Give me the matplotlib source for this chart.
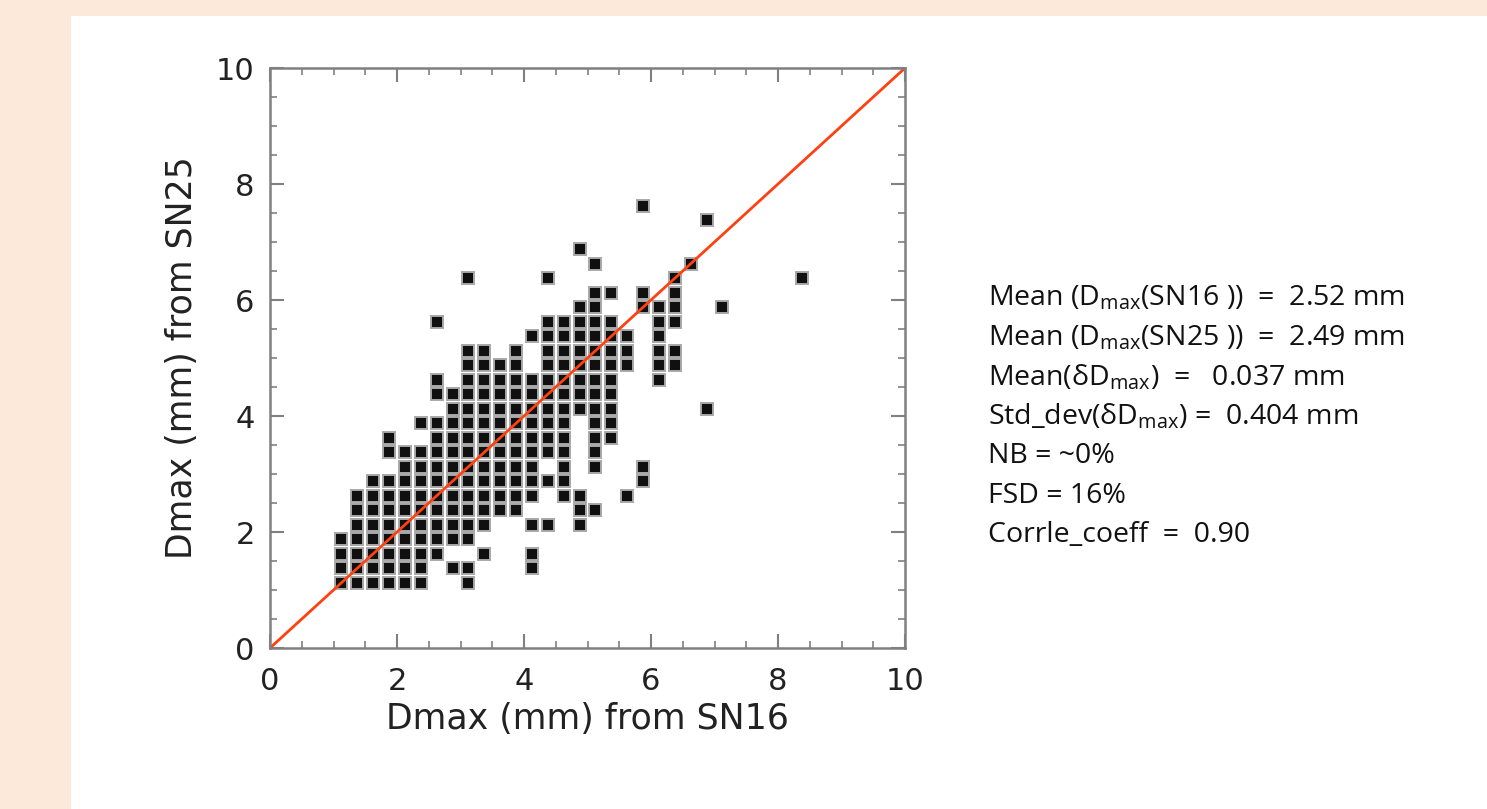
import matplotlib.pyplot as plt
from matplotlib.patches import Rectangle

plt.rcParams['mathtext.fontset'] = 'custom'
plt.rcParams['mathtext.rm'] = 'Open Sans'

# Dmax bins from SN16 (mm) and the SN25 Dmax values seen in each bin
sn16_bins = [1.125, 1.375, 1.625, 1.875, 2.125, 2.375, 2.625, 2.875, 3.125, 3.375,
             3.625, 3.875, 4.125, 4.375, 4.625, 4.875, 5.125, 5.375, 5.625, 5.875,
             6.125, 6.375, 6.625, 6.875, 7.125, 8.375]
sn25_by_bin = [
    [1.125, 1.375, 1.625, 1.875],
    [1.125, 1.375, 1.625, 1.875, 2.125, 2.375, 2.625],
    [1.125, 1.375, 1.625, 1.875, 2.125, 2.375, 2.625, 2.875],
    [1.125, 1.375, 1.625, 1.875, 2.125, 2.375, 2.625, 2.875, 3.375, 3.625],
    [1.125, 1.375, 1.625, 1.875, 2.125, 2.375, 2.625, 2.875, 3.125, 3.375],
    [1.125, 1.375, 1.625, 1.875, 2.125, 2.375, 2.625, 2.875, 3.125, 3.375, 3.875],
    [1.625, 1.875, 2.125, 2.375, 2.625, 2.875, 3.125, 3.375, 3.625, 3.875, 4.375,
     4.625, 5.625],
    [1.375, 1.875, 2.125, 2.375, 2.625, 2.875, 3.125, 3.375, 3.625, 3.875, 4.125,
     4.375],
    [1.125, 1.375, 1.875, 2.125, 2.375, 2.625, 2.875, 3.125, 3.375, 3.625, 3.875,
     4.125, 4.375, 4.625, 4.875, 5.125, 6.375],
    [1.625, 2.125, 2.375, 2.625, 2.875, 3.125, 3.375, 3.625, 3.875, 4.125, 4.375,
     4.625, 4.875, 5.125],
    [2.375, 2.625, 2.875, 3.125, 3.375, 3.625, 3.875, 4.125, 4.375, 4.625, 4.875],
    [2.375, 2.625, 2.875, 3.125, 3.375, 3.625, 3.875, 4.125, 4.375, 4.625, 4.875,
     5.125],
    [1.375, 1.625, 2.125, 2.625, 2.875, 3.125, 3.375, 3.625, 3.875, 4.125, 4.375,
     4.625, 5.375],
    [2.125, 2.875, 3.375, 3.625, 3.875, 4.125, 4.375, 4.625, 4.875, 5.125, 5.375,
     5.625, 6.375],
    [2.625, 2.875, 3.125, 3.375, 3.625, 3.875, 4.125, 4.375, 4.625, 4.875, 5.125,
     5.375, 5.625],
    [2.125, 2.375, 2.625, 4.125, 4.375, 4.625, 4.875, 5.125, 5.375, 5.625, 5.875,
     6.875],
    [2.375, 3.125, 3.375, 3.625, 3.875, 4.125, 4.375, 4.625, 4.875, 5.125, 5.375,
     5.625, 5.875, 6.125, 6.625],
    [3.625, 3.875, 4.125, 4.375, 4.625, 4.875, 5.125, 5.375, 5.625, 6.125],
    [2.625, 4.875, 5.125, 5.375],
    [2.875, 3.125, 5.875, 6.125, 7.625],
    [4.625, 4.875, 5.125, 5.375, 5.625, 5.875],
    [4.875, 5.125, 5.625, 5.875, 6.125, 6.375],
    [6.625],
    [4.125, 7.375],
    [5.875],
    [6.375],
]

stats_lines = [
    r'Mean (D$_{\mathrm{max}}$(SN16 ))  =  2.52 mm',
    r'Mean (D$_{\mathrm{max}}$(SN25 ))  =  2.49 mm',
    r'Mean(δD$_{\mathrm{max}}$)  =   0.037 mm',
    r'Std_dev(δD$_{\mathrm{max}}$) =  0.404 mm',
    'NB = ~0%',
    'FSD = 16%',
    'Corrle_coeff  =  0.90',
]

xs, ys = [], []
for xb, yl in zip(sn16_bins, sn25_by_bin):
    for yv in yl:
        xs.append(xb)
        ys.append(yv)

fig = plt.figure(figsize=(14.87, 8.09), dpi=100, facecolor='#fde9da')
fig.patches.append(Rectangle((71 / 1487, 0), 1, 1 - 16 / 809, transform=fig.transFigure,
                             facecolor='white', edgecolor='none', zorder=-10))

ax = fig.add_axes([270 / 1487, 1 - 648 / 809, 635 / 1487, 580 / 809])
ax.set_facecolor('white')
ax.plot(xs, ys, linestyle='none', marker='s', markersize=8.6, mfc='#101010',
        mec='#a8a8a8', mew=1.4)
ax.plot([0, 10], [0, 10], color='#ff4010', linewidth=2)

ax.set_xlim(0, 10)
ax.set_ylim(0, 10)
ax.set_xticks([0, 2, 4, 6, 8, 10])
ax.set_yticks([0, 2, 4, 6, 8, 10])
ax.set_xticks([1, 3, 5, 7, 9] + [0.5, 1.5, 2.5, 3.5, 4.5, 5.5, 6.5, 7.5, 8.5, 9.5], minor=True)
ax.set_yticks([1, 3, 5, 7, 9] + [0.5, 1.5, 2.5, 3.5, 4.5, 5.5, 6.5, 7.5, 8.5, 9.5], minor=True)
ax.tick_params(which='both', direction='in', top=True, right=True, color='#808080',
               labelsize=22, labelcolor='#222222')
ax.tick_params(which='major', length=10, width=1.5)
ax.tick_params(which='minor', length=5, width=1.2)
ax.tick_params(axis='x', pad=14)
ax.tick_params(axis='y', pad=11)
for sp in ax.spines.values():
    sp.set_color('#808080')
    sp.set_linewidth(1.8)

ax.set_xlabel('Dmax (mm) from SN16', fontsize=25, color='#222222', labelpad=4)
ax.set_ylabel('Dmax (mm) from SN25', fontsize=25, color='#222222', labelpad=12)

for k, line in enumerate(stats_lines):
    fig.text(988 / 1487, 1 - (298 + 39.5 * k) / 809, line, fontsize=20.5,
             family=['Open Sans', 'DejaVu Sans'], color='#111111', va='center', ha='left')

fig.savefig('out.png', dpi=100, facecolor=fig.get_facecolor())
